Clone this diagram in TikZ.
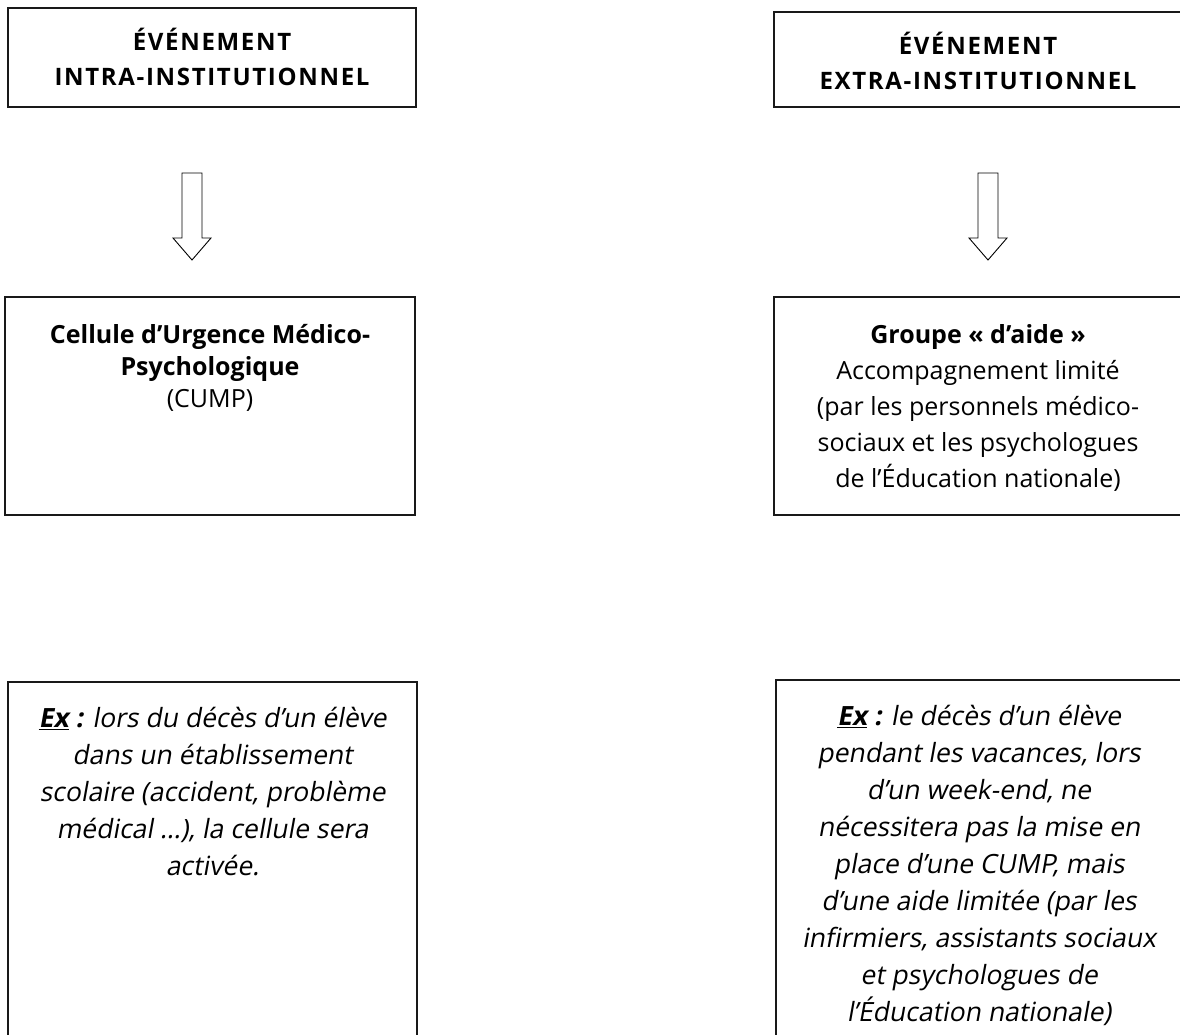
\documentclass[tikz,border=0pt]{standalone}
\usepackage{fontspec}
\setmainfont{Open Sans}
\newfontfamily\titlefont{Open Sans}[LetterSpace=7]
\newfontfamily\obliquefont{Open Sans}[FakeSlant=0.18,BoldFeatures={FakeSlant=0.18}]
\begin{document}
\begin{tikzpicture}[x=1pt,y=-1pt,
  box/.style={draw=black!90,line width=1.3pt,rectangle,inner sep=0pt},
  titletxt/.style={align=center,inner sep=0pt,font=\fontsize{24}{35}\selectfont\titlefont\bfseries},
  midtxtL/.style={align=center,inner sep=0pt,anchor=north,font=\fontsize{25}{32}\selectfont},
  midtxtR/.style={align=center,inner sep=0pt,anchor=north,font=\fontsize{25}{36}\selectfont},
  extxt/.style={align=center,inner sep=0pt,anchor=north,font=\fontsize{26.5}{37}\selectfont\obliquefont},
  blockarrow/.style={draw=black,line width=0.9pt,fill=white,line join=miter}
]
\useasboundingbox (0,0) rectangle (1180,1035);
\fill[white] (0,0) rectangle (1180,1035);

% boxes
\node[box,minimum width=408pt,minimum height=99pt] (tl) at (212,57.5) {};
\node[box,minimum width=408pt,minimum height=95pt] (tr) at (978,59.5) {};
\node[box,minimum width=410pt,minimum height=218pt] (ml) at (210,406) {};
\node[box,minimum width=408pt,minimum height=218pt] (mr) at (978,406) {};
\node[box,minimum width=409pt,minimum height=400pt] (bl) at (212.5,882) {};
\node[box,minimum width=406pt,minimum height=400pt] (br) at (979,880) {};

% titles
\node[titletxt] (tlt) at ([yshift=1pt]tl.center) {ÉVÉNEMENT\\INTRA-INSTITUTIONNEL};
\node[titletxt] (trt) at ([yshift=-1pt]tr.center) {ÉVÉNEMENT\\EXTRA-INSTITUTIONNEL};

% mid texts
\node[midtxtL] (mlt) at ([yshift=-25pt]ml.north) {\strut\textbf{Cellule d’Urgence Médico-}\\\textbf{Psychologique}\\(CUMP)};
\node[midtxtR] (mrt) at ([yshift=-22pt]mr.north) {\strut\textbf{Groupe « d’aide »}\\Accompagnement limité\\(par les personnels médico-\\sociaux et les psychologues\\de l’Éducation nationale)};

% examples
\node[extxt] (blt) at ([yshift=-20pt]bl.north) {\strut\textbf{\underline{Ex}~:} lors du décès d’un élève\\dans un établissement\\scolaire (accident, problème\\médical …), la cellule sera\\activée.};
\node[extxt] (brt) at ([yshift=-20pt]br.north) {\strut\textbf{\underline{Ex}~:} le décès d’un élève\\pendant les vacances, lors\\d’un week-end, ne\\nécessitera pas la mise en\\place d’une CUMP, mais\\d’une aide limitée (par les\\infirmiers, assistants sociaux\\et psychologues de\\l’Éducation nationale)};

% block arrows
\coordinate (al) at (192,173);
\coordinate (ar) at (988,173);
\foreach \c in {al,ar}{
  \draw[blockarrow] ([xshift=-10pt]\c) -- ([xshift=10pt]\c) -- ([xshift=10pt,yshift=-65pt]\c) -- ([xshift=19pt,yshift=-65pt]\c) -- ([yshift=-87pt]\c) -- ([xshift=-19pt,yshift=-65pt]\c) -- ([xshift=-10pt,yshift=-65pt]\c) -- cycle;
}
\end{tikzpicture}
\end{document}
